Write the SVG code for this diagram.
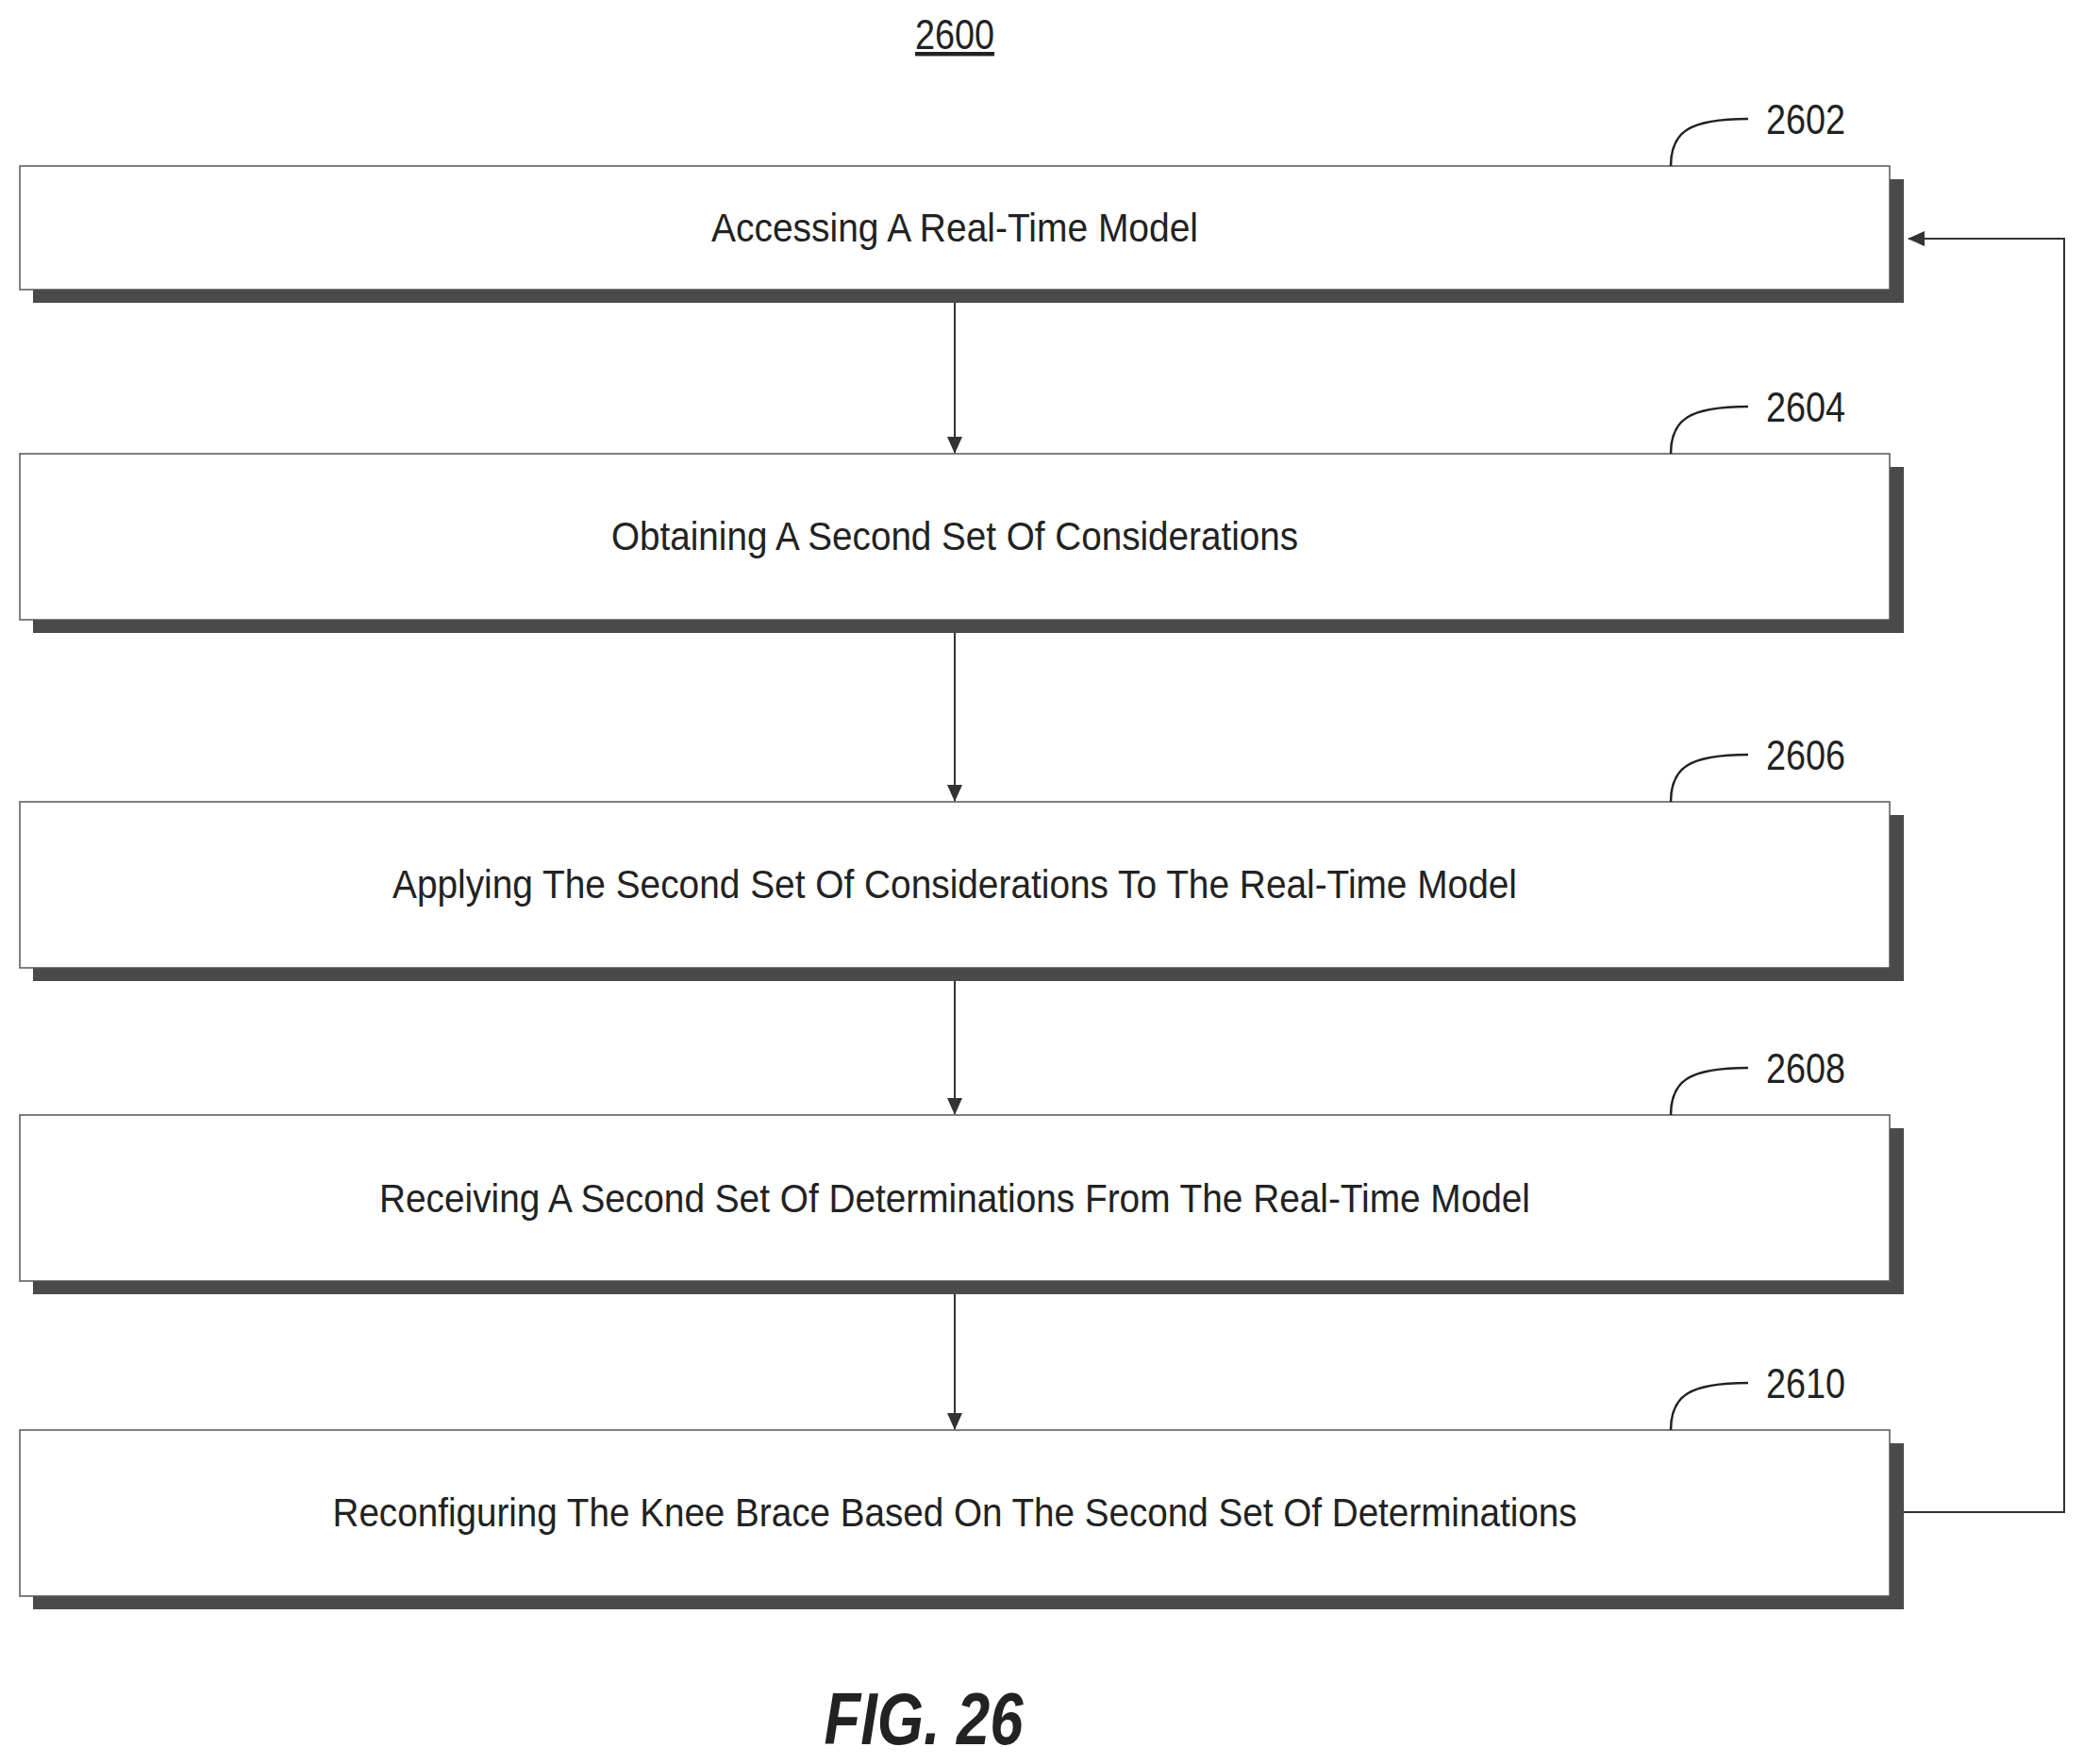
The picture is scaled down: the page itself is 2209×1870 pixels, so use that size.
<svg xmlns="http://www.w3.org/2000/svg" width="2209" height="1870" viewBox="0 0 2209 1870">
<style>
.box{fill:#fff;stroke:#555;stroke-width:1.5}
.sh{fill:#4a4a4a}
.t{font-family:"Liberation Sans",Arial,sans-serif;font-size:42px;fill:#222;text-anchor:middle}
.n{font-family:"Liberation Sans",Arial,sans-serif;font-size:44px;fill:#222}
.ld{fill:none;stroke:#222;stroke-width:2.5}
.c{fill:none;stroke:#333;stroke-width:2}
</style>
<defs><marker id="a2" markerWidth="18" markerHeight="18" refX="17" refY="9" orient="auto" markerUnits="userSpaceOnUse" viewBox="0 0 18 18"><path d="M0,1 L18,9 L0,17 z" fill="#333"/></marker></defs>
<text x="1012" y="52" class="n" text-anchor="middle" text-decoration="underline" textLength="84" lengthAdjust="spacingAndGlyphs">2600</text>
<g id="n2602"><rect class="sh" x="35" y="190" width="1983" height="131"/><rect class="box" x="21" y="176" width="1982" height="131"/><text class="t" x="1012" y="256" textLength="516" lengthAdjust="spacingAndGlyphs">Accessing A Real-Time Model</text><path class="ld" d="M1771,176 C1771,140 1790,126 1853,126"/><text class="n" x="1872" y="142" textLength="84" lengthAdjust="spacingAndGlyphs">2602</text></g>
<g id="n2604"><rect class="sh" x="35" y="495" width="1983" height="176"/><rect class="box" x="21" y="481" width="1982" height="176"/><text class="t" x="1012" y="583" textLength="728" lengthAdjust="spacingAndGlyphs">Obtaining A Second Set Of Considerations</text><path class="ld" d="M1771,481 C1771,445 1790,431 1853,431"/><text class="n" x="1872" y="447" textLength="84" lengthAdjust="spacingAndGlyphs">2604</text></g>
<g id="n2606"><rect class="sh" x="35" y="864" width="1983" height="176"/><rect class="box" x="21" y="850" width="1982" height="176"/><text class="t" x="1012" y="952" textLength="1192" lengthAdjust="spacingAndGlyphs">Applying The Second Set Of Considerations To The Real-Time Model</text><path class="ld" d="M1771,850 C1771,814 1790,800 1853,800"/><text class="n" x="1872" y="816" textLength="84" lengthAdjust="spacingAndGlyphs">2606</text></g>
<g id="n2608"><rect class="sh" x="35" y="1196" width="1983" height="176"/><rect class="box" x="21" y="1182" width="1982" height="176"/><text class="t" x="1012" y="1285" textLength="1220" lengthAdjust="spacingAndGlyphs">Receiving A Second Set Of Determinations From The Real-Time Model</text><path class="ld" d="M1771,1182 C1771,1146 1790,1132 1853,1132"/><text class="n" x="1872" y="1148" textLength="84" lengthAdjust="spacingAndGlyphs">2608</text></g>
<g id="n2610"><rect class="sh" x="35" y="1530" width="1983" height="176"/><rect class="box" x="21" y="1516" width="1982" height="176"/><text class="t" x="1012" y="1618" textLength="1319" lengthAdjust="spacingAndGlyphs">Reconfiguring The Knee Brace Based On The Second Set Of Determinations</text><path class="ld" d="M1771,1516 C1771,1480 1790,1466 1853,1466"/><text class="n" x="1872" y="1482" textLength="84" lengthAdjust="spacingAndGlyphs">2610</text></g>
<g id="connectors">
<line class="c" x1="1012" y1="321" x2="1012" y2="480" marker-end="url(#a2)"/>
<line class="c" x1="1012" y1="671" x2="1012" y2="849" marker-end="url(#a2)"/>
<line class="c" x1="1012" y1="1040" x2="1012" y2="1181" marker-end="url(#a2)"/>
<line class="c" x1="1012" y1="1372" x2="1012" y2="1515" marker-end="url(#a2)"/>
<path class="c" d="M2018,1603 H2188 V253 H2023" marker-end="url(#a2)"/>
</g>
<text x="979" y="1849" font-family="Liberation Sans,Arial,sans-serif" font-size="78" font-weight="bold" font-style="italic" fill="#222" text-anchor="middle" textLength="211" lengthAdjust="spacingAndGlyphs">FIG. 26</text>
</svg>
